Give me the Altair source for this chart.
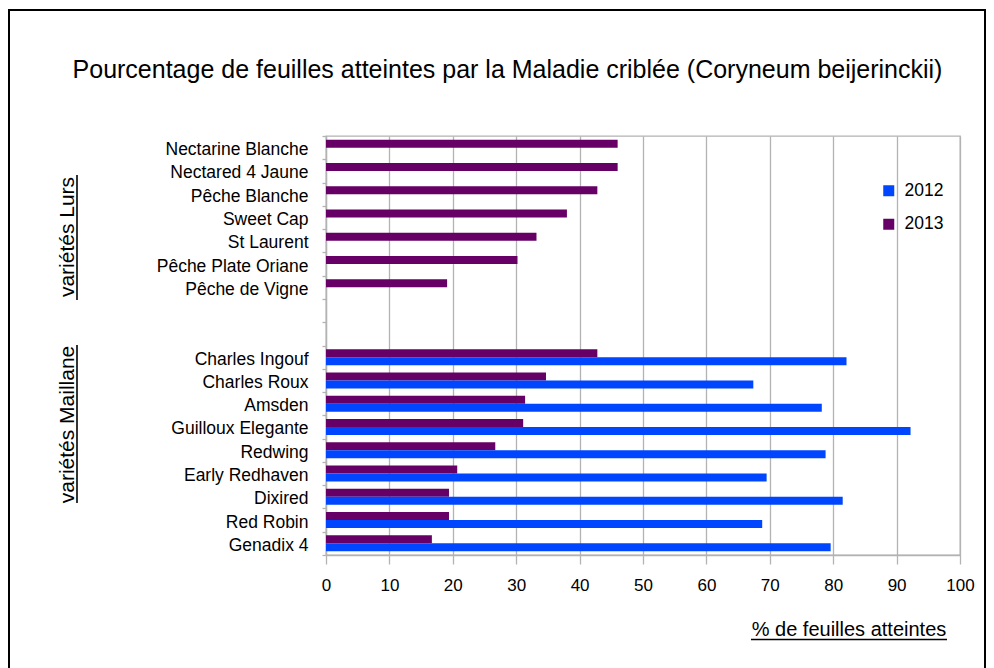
import altair as alt
import pandas as pd

# ---- data ----
lurs = ["Nectarine Blanche", "Nectared 4 Jaune", "Pêche Blanche", "Sweet Cap",
        "St Laurent", "Pêche Plate Oriane", "Pêche de Vigne"]
lurs_2013 = [46.0, 46.0, 42.8, 38.0, 33.2, 30.2, 19.1]

blanks = [" ", "  "]

maillane = ["Charles Ingouf", "Charles Roux", "Amsden", "Guilloux Elegante", "Redwing",
            "Early Redhaven", "Dixired", "Red Robin", "Genadix 4"]
maillane_2013 = [42.8, 34.7, 31.4, 31.1, 26.7, 20.7, 19.4, 19.4, 16.7]
maillane_2012 = [82.1, 67.4, 78.2, 92.2, 78.8, 69.5, 81.5, 68.8, 79.6]

years = ["2012", "2013"]
x_ticks = [0, 10, 20, 30, 40, 50, 60, 70, 80, 90, 100]

TITLE = "Pourcentage de feuilles atteintes par la Maladie criblée (Coryneum beijerinckii)"
X_TITLE = "% de feuilles atteintes"
GROUP_LURS = "variétés Lurs"
GROUP_MAILLANE = "variétés Maillane"

BLUE = "#0046ff"
PURPLE = "#660066"
GRID = "#b3b3b3"

rows = []
for v, val in zip(lurs, lurs_2013):
    rows.append({"variete": v, "annee": "2013", "pct": val})
for v, a, b in zip(maillane, maillane_2013, maillane_2012):
    rows.append({"variete": v, "annee": "2013", "pct": a})
    rows.append({"variete": v, "annee": "2012", "pct": b})
df = pd.DataFrame(rows)
order = lurs + blanks + maillane

bars = alt.Chart(df).mark_bar().encode(
    x=alt.X("pct:Q",
            scale=alt.Scale(domain=[0, 100], nice=False),
            axis=alt.Axis(values=x_ticks, title=None, grid=True, gridColor=GRID,
                          gridWidth=1.3, tickSize=9, tickColor=GRID, tickWidth=1.3,
                          domainColor=GRID, domainWidth=1.3, labelFlush=False,
                          labelFontSize=17, labelPadding=13, labelColor="black")),
    y=alt.Y("variete:N",
            scale=alt.Scale(domain=order, paddingInner=0, paddingOuter=0),
            axis=alt.Axis(title=None, tickBand="extent", tickSize=4, tickColor=GRID,
                          tickWidth=1.3, domainColor=GRID, domainWidth=1.3,
                          labelFontSize=17.5, labelPadding=14, labelOffset=2,
                          labelColor="black", labelLimit=300, grid=False)),
    yOffset=alt.YOffset("annee:N",
                        scale=alt.Scale(domain=["2013", "2012"], paddingInner=0,
                                        paddingOuter=0.455)),
    color=alt.Color("annee:N",
                    scale=alt.Scale(domain=years, range=[BLUE, PURPLE]),
                    legend=alt.Legend(title=None, orient="none", legendX=554, legendY=46,
                                      symbolType="square", symbolSize=121,
                                      symbolStrokeWidth=0, symbolOpacity=1,
                                      labelFontSize=17.5, labelOffset=7, rowPadding=14.5,
                                      padding=0, labelColor="black")),
)

deco = pd.DataFrame({"k": [0]})

border = alt.Chart(deco).mark_rect(filled=False, stroke="black", strokeWidth=2).encode(
    x=alt.value(-317), x2=alt.value(659), y=alt.value(-126), y2=alt.value(600))

title_txt = alt.Chart(deco).mark_text(fontSize=25, align="center", baseline="alphabetic",
                                      color="black").encode(
    x=alt.value(181.5), y=alt.value(-58), text=alt.value(TITLE))

xtitle = alt.Chart(deco).mark_text(fontSize=20, align="center", baseline="alphabetic",
                                   color="black").encode(
    x=alt.value(523), y=alt.value(500), text=alt.value(X_TITLE))
xtitle_ul = alt.Chart(deco).mark_rule(color="black", strokeWidth=1.6).encode(
    x=alt.value(425), x2=alt.value(621), y=alt.value(503.5))

lurs_txt = alt.Chart(deco).mark_text(fontSize=21, angle=270, align="center",
                                     baseline="alphabetic", color="black").encode(
    x=alt.value(-252), y=alt.value(101), text=alt.value(GROUP_LURS))
lurs_ul = alt.Chart(deco).mark_rule(color="black", strokeWidth=1.6).encode(
    x=alt.value(-249), y=alt.value(39), y2=alt.value(164))

mail_txt = alt.Chart(deco).mark_text(fontSize=21, angle=270, align="center",
                                     baseline="alphabetic", color="black").encode(
    x=alt.value(-252), y=alt.value(288.5), text=alt.value(GROUP_MAILLANE))
mail_ul = alt.Chart(deco).mark_rule(color="black", strokeWidth=1.6).encode(
    x=alt.value(-249), y=alt.value(209), y2=alt.value(367))

chart = alt.layer(
    bars, border, title_txt, xtitle, xtitle_ul, lurs_txt, lurs_ul, mail_txt, mail_ul
).properties(
    width=634, height=419,
    padding={"left": 318, "top": 128, "right": 26, "bottom": 113},
    autosize=alt.AutoSizeParams(type="none"),
    background="white",
).configure(font="Liberation Sans").configure_view(stroke=GRID, strokeWidth=1.3)

chart.save("out.html", embed_options={"renderer": "svg", "actions": False})
